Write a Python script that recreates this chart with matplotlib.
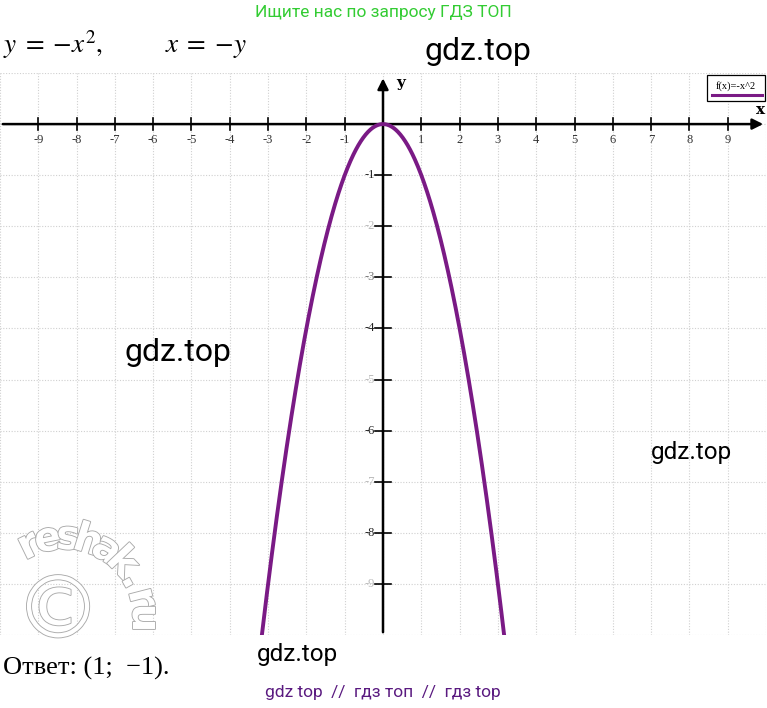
import numpy as np
import matplotlib.pyplot as plt
import matplotlib.patheffects as pe
from matplotlib.patches import Rectangle

plt.rcParams['mathtext.fontset'] = 'stix'

# data
x_ticks = [-9, -8, -7, -6, -5, -4, -3, -2, -1, 1, 2, 3, 4, 5, 6, 7, 8, 9]
y_ticks = [-1, -2, -3, -4, -5, -6, -7, -8, -9]
y_tick_colors = ['#222222', '#bbbbbb', '#777777', '#222222', '#bbbbbb',
                 '#222222', '#bbbbbb', '#222222', '#bbbbbb']
x_min, x_max = -3.17, 3.17

W, H = 767, 708
fig = plt.figure(figsize=(W / 100, H / 100), dpi=100)
ax = fig.add_axes([0, (H - 635) / H, 766 / W, (635 - 73) / H])
ax.set_xlim(-10, 10)
ax.set_ylim(-10, 1)
ax.axis('off')

# grid
for gx in range(-10, 11):
    ax.axvline(gx, color='#d0d0d0', lw=0.8, ls=(0, (1, 1.5)), zorder=0)
for gy in range(-10, 2):
    ax.axhline(gy, color='#d0d0d0', lw=0.8, ls=(0, (1, 1.5)), zorder=0)

# axes with arrows
ax.annotate('', xy=(10, 0), xytext=(-10, 0),
            arrowprops=dict(arrowstyle='-|>', color='black', lw=1.8, mutation_scale=16),
            annotation_clip=False)
ax.annotate('', xy=(0, 0.95), xytext=(0, -10),
            arrowprops=dict(arrowstyle='-|>', color='black', lw=1.8, mutation_scale=16),
            annotation_clip=False)
ax.text(9.85, 0.27, 'x', fontsize=11, fontweight='bold', family='DejaVu Serif',
        ha='center', va='center')
ax.text(0.45, 0.8, 'y', fontsize=11, fontweight='bold', family='DejaVu Serif',
        ha='center', va='center')

# ticks
for t in x_ticks:
    ax.plot([t, t], [-0.12, 0.12], color='black', lw=1.2)
    ax.text(t, -0.2, str(t), fontsize=9, family='Liberation Serif', color='#333333',
            ha='center', va='top')
for t, c in zip(y_ticks, y_tick_colors):
    ax.plot([-0.2, 0.2], [t, t], color='black', lw=1.2)
    ax.text(-0.22, t, str(t), fontsize=9, family='Liberation Serif', color=c,
            ha='right', va='center')

# curve
xs = np.linspace(x_min, x_max, 400)
ax.plot(xs, -xs ** 2, color='#7a1a85', lw=2.8, zorder=3)


def px(x, y):
    return x / W, 1 - y / H


# legend box
fig.add_artist(Rectangle(px(707, 101), 58 / W, 26 / H, transform=fig.transFigure,
                         fc='white', ec='black', lw=0.9, zorder=5))
fig.text(*px(736, 86), 'f(x)=-x^2', fontsize=7.5, family='Liberation Serif',
         ha='center', va='center', zorder=6)
fig.add_artist(plt.Line2D([712 / W, 762 / W], [1 - 95 / H, 1 - 95 / H],
                          transform=fig.transFigure, color='#7a1a85', lw=2.2, zorder=6))

# header / footer texts
fig.text(*px(383, 12), 'Ищите нас по запросу ГДЗ ТОП', fontsize=12.5, family='Roboto',
         color='#33cc33', ha='center', va='center')
fig.text(*px(3, 45), r'$y\;=\;{-}x^2,\qquad\quad x\;=\;{-}y$', fontsize=19.5,
         ha='left', va='center')
fig.text(*px(3, 668), 'Ответ: (1;  −1).', fontsize=19, family='Liberation Serif',
         ha='left', va='center')
fig.text(*px(383, 692), 'gdz top  //  гдз топ  //  гдз top', fontsize=12.5, family='Roboto',
         color='#5a1a80', ha='center', va='center')

# gdz.top watermarks
for (wx, wy, fs) in [(478, 52, 23), (178, 352, 23), (691, 453, 17.5), (298, 655, 17.5)]:
    fig.text(*px(wx, wy), 'gdz.top', fontsize=fs, family='Roboto', color='black',
             ha='center', va='center')

# reshak.ru watermark
cx, cy, r = 64, 618, 80
angles = np.linspace(116, 0, len('reshak.ru'))
outline = [pe.withStroke(linewidth=1.3, foreground='#aaaaaa')]
for ch, a in zip('reshak.ru', angles):
    lx = cx + r * np.cos(np.radians(a))
    ly = cy - r * np.sin(np.radians(a))
    fig.text(*px(lx, ly), ch, fontsize=29, fontweight='bold', family='DejaVu Sans',
             color='white', rotation=a - 90, ha='center', va='center', path_effects=outline)
fig.text(*px(58, 614), '©', fontsize=62, family='DejaVu Sans', color='white',
         ha='center', va='center', path_effects=outline)

fig.savefig('out.png', dpi=100)
